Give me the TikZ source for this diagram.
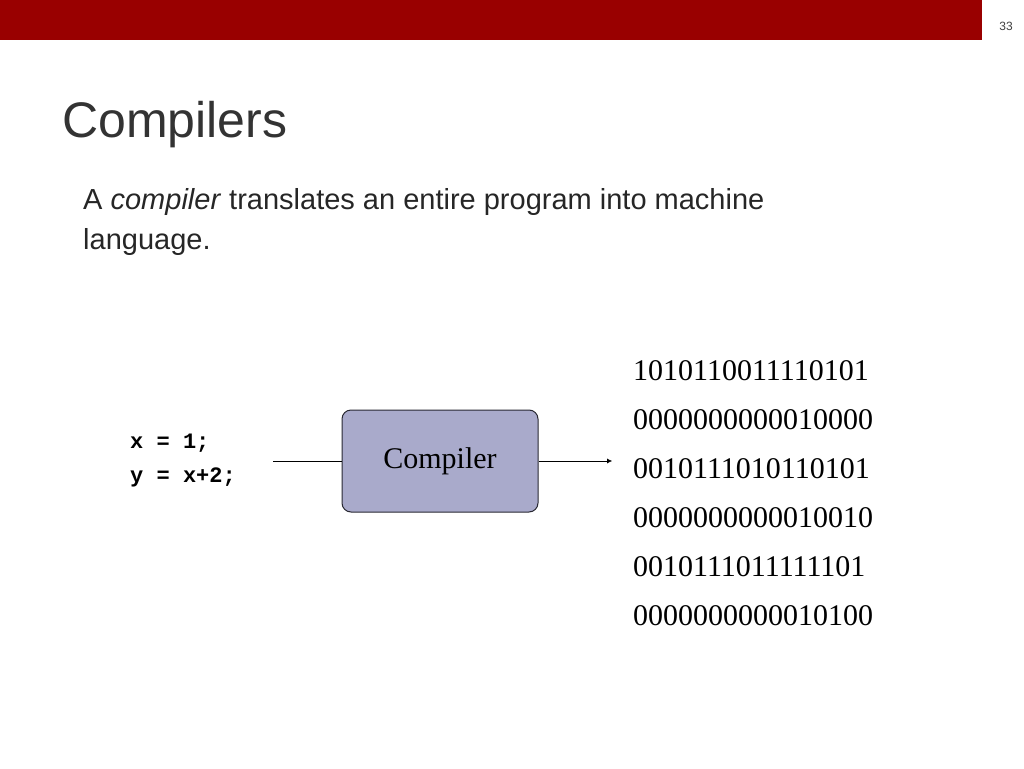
\documentclass[tikz,border=0pt]{standalone}
\usepackage{fontspec}
\usetikzlibrary{arrows.meta}
\setmainfont{Liberation Sans}
\newfontfamily\tnr{Liberation Serif}
\newfontfamily\cour{Liberation Mono}
\begin{document}
\begin{tikzpicture}[x=1pt,y=-1pt,
  bin/.style={anchor=base west,inner sep=0,font=\tnr\fontsize{30}{30}\selectfont},
  code/.style={anchor=base west,inner sep=0,font=\cour\bfseries\fontsize{22}{22}\selectfont},
  body/.style={anchor=base west,inner sep=0,font=\fontsize{29}{29}\selectfont,text=black!85}]
\useasboundingbox (0,0) rectangle (1024,768);
\fill[fill={rgb,255:red,153;green,0;blue,0}] (0,0) rectangle (982,40);
\node[font=\fontsize{12}{12}\selectfont,text=black!75] (pg) at (1006,26) {33};
\node[anchor=base west,inner sep=0,font=\fontsize{50}{50}\selectfont,text=black!80] (title) at (62,137) {Compilers};
\node[body] (l1) at (83,209) {A \textit{compiler} translates an entire program into machine};
\node[body] (l2) at (83,249) {language.};
\node[code] (c1) at (130,448) {x = 1;};
\node[code] (c2) at (130,482) {y = x+2;};
\coordinate (src) at (273,461);
\node[draw={rgb,255:red,40;green,40;blue,50},line width=1pt,rounded corners=9pt,fill={rgb,255:red,169;green,170;blue,203},minimum width=196pt,minimum height=102pt,font=\tnr\fontsize{30}{30}\selectfont] (comp) at (440,461) {Compiler};
\coordinate (dst) at (612,461);
\draw (src) -- (comp.west);
\draw[-{Latex[length=5pt,width=5pt]}] (comp.east) -- (dst);
\node[bin] (b1) at (633,380) {1010110011110101};
\node[bin] (b2) at (633,429) {0000000000010000};
\node[bin] (b3) at (633,478) {0010111010110101};
\node[bin] (b4) at (633,527) {0000000000010010};
\node[bin] (b5) at (633,576) {0010111011111101};
\node[bin] (b6) at (633,625) {0000000000010100};
\end{tikzpicture}
\end{document}
